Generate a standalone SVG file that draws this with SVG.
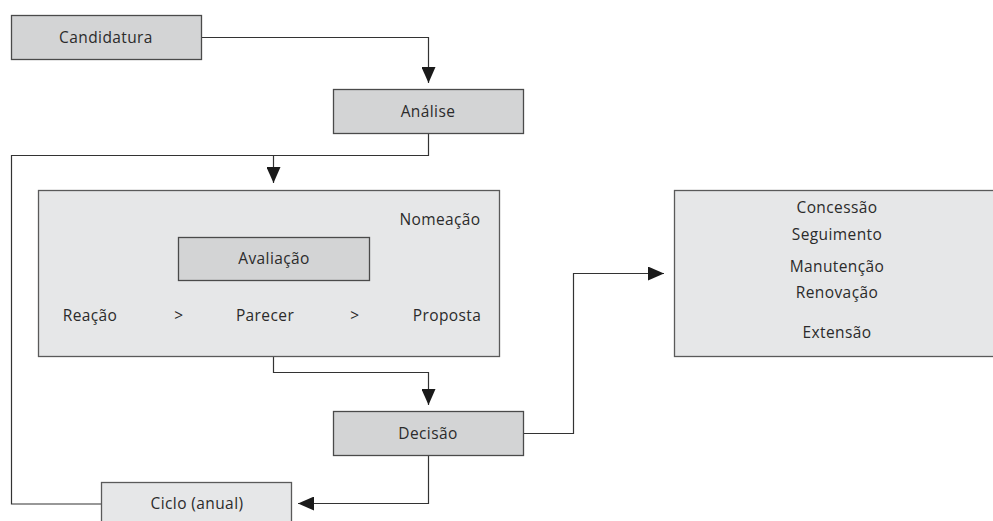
<svg xmlns="http://www.w3.org/2000/svg" width="993" height="521" viewBox="0 0 993 521">
<style>
.node{fill:#d3d4d5;stroke:#4a4a4a;stroke-width:1.3}
.panel{fill:#e6e7e8;stroke:#5a5a5a;stroke-width:1.3}
.t{font-family:"Open Sans","Liberation Sans",sans-serif;font-size:15.5px;letter-spacing:0.4px;fill:#2b2b2b;text-anchor:middle}
.c{fill:none;stroke:#333;stroke-width:1.2}
</style>
<defs>
<marker id="ah" markerUnits="userSpaceOnUse" markerWidth="16" markerHeight="14" refX="16" refY="7" orient="auto">
<path d="M0,0 L16,7 L0,14 Z" fill="#1a1a1a"/>
</marker>
</defs>
<rect width="993" height="521" fill="#fff"/>
<g id="connectors">
<path class="c" d="M201,37.5 H428.5 V83" marker-end="url(#ah)"/>
<path class="c" d="M428.5,133 V155.5 H11.5 V504 H101"/>
<path class="c" d="M273.5,155.5 V183" marker-end="url(#ah)"/>
<path class="c" d="M273.5,357 V372.5 H428.5 V405" marker-end="url(#ah)"/>
<path class="c" d="M428.5,455 V503.5 H298" marker-end="url(#ah)"/>
<path class="c" d="M523,433.5 H573.5 V273.5 H664" marker-end="url(#ah)"/>
</g>
<g id="candidatura">
<rect class="node" x="11.5" y="15.5" width="190" height="44"/>
<text class="t" x="106" y="43">Candidatura</text>
</g>
<g id="analise">
<rect class="node" x="333.5" y="89.5" width="190" height="44"/>
<text class="t" x="428" y="117">Análise</text>
</g>
<g id="nomeacao">
<rect class="panel" x="38.5" y="190.5" width="461" height="166"/>
<text class="t" x="440" y="225">Nomeação</text>
<text class="t" x="90" y="321">Reação</text>
<text class="t" x="179" y="321">&gt;</text>
<text class="t" x="265" y="321">Parecer</text>
<text class="t" x="355" y="321">&gt;</text>
<text class="t" x="447" y="321">Proposta</text>
</g>
<g id="avaliacao">
<rect class="node" x="178.5" y="237.5" width="191" height="43"/>
<text class="t" x="274" y="264">Avaliação</text>
</g>
<g id="decisao">
<rect class="node" x="333.5" y="411.5" width="190" height="44"/>
<text class="t" x="428" y="439">Decisão</text>
</g>
<g id="ciclo">
<rect class="panel" x="101.5" y="482.5" width="190" height="44"/>
<text class="t" x="197" y="509">Ciclo (anual)</text>
</g>
<g id="resultados">
<rect class="panel" x="674.5" y="190.5" width="325" height="166"/>
<text class="t" x="837" y="213">Concessão</text>
<text class="t" x="837" y="240">Seguimento</text>
<text class="t" x="837" y="272">Manutenção</text>
<text class="t" x="837" y="298">Renovação</text>
<text class="t" x="837" y="338">Extensão</text>
</g>
</svg>
